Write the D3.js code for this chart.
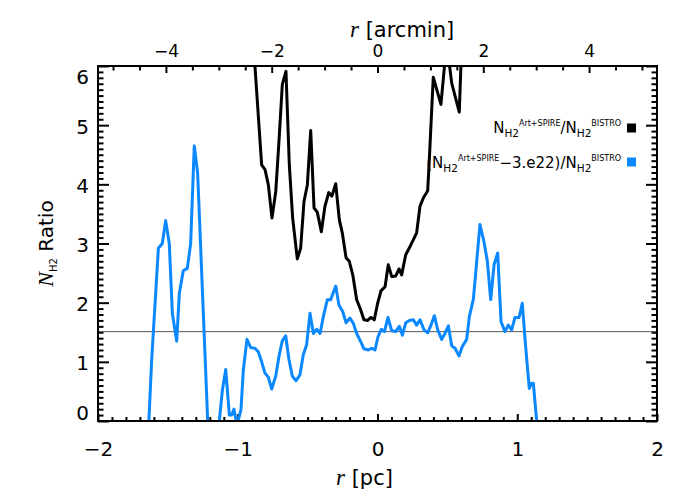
<!DOCTYPE html>
<html><head><meta charset="utf-8">
<script src="https://cdn.jsdelivr.net/npm/d3@7"></script>
<style>body{margin:0;background:#fff}</style>
</head><body><svg id="c" width="700" height="500"></svg>
<script>
// ---- data ----
const blueR = [-1.66,-1.636,-1.616,-1.568,-1.54,-1.516,-1.49,-1.468,-1.437,-1.418,-1.39,-1.361,-1.337,-1.311,-1.287,-1.215,-1.2,-1.15,-1.132,-1.11,-1.086,-1.06,-1.043,-1.027,-1.013,-0.996,-0.977,-0.96,-0.934,-0.907,-0.877,-0.853,-0.829,-0.805,-0.781,-0.757,-0.728,-0.705,-0.681,-0.657,-0.633,-0.61,-0.583,-0.555,-0.531,-0.507,-0.483,-0.459,-0.435,-0.411,-0.388,-0.359,-0.335,-0.299,-0.276,-0.249,-0.225,-0.197,-0.173,-0.149,-0.12,-0.097,-0.066,-0.042,-0.018,0.003,0.027,0.05,0.075,0.101,0.13,0.156,0.178,0.202,0.228,0.256,0.28,0.304,0.333,0.359,0.383,0.407,0.431,0.459,0.483,0.507,0.531,0.555,0.583,0.607,0.638,0.657,0.686,0.71,0.733,0.762,0.786,0.81,0.834,0.86,0.884,0.912,0.936,0.96,0.984,1.013,1.036,1.06,1.086,1.103,1.115,1.139,1.16];
const blueRatio = [-1.2,0,1.03,2.92,3.0,3.39,3.0,1.82,1.35,2.16,2.54,2.58,3.0,4.65,4.19,0,-0.87,-0.42,0,0.52,0.87,0.10,0.10,0.20,0.02,0.02,0.19,0.86,1.38,1.24,1.23,1.17,1.0,0.81,0.74,0.54,0.76,1.09,1.36,1.44,1.03,0.76,0.68,0.78,1.12,1.29,1.82,1.48,1.55,1.48,1.76,2.05,2.05,2.28,1.96,1.85,1.66,1.74,1.65,1.48,1.34,1.22,1.2,1.23,1.2,1.42,1.55,1.51,1.75,1.53,1.51,1.6,1.45,1.66,1.7,1.71,1.62,1.71,1.54,1.49,1.62,1.78,1.54,1.38,1.48,1.61,1.27,1.23,1.10,1.26,1.38,1.76,2.06,2.7,3.32,3.03,2.7,2.05,2.64,2.84,1.68,1.51,1.62,1.54,1.75,1.75,1.99,1.26,0.55,0.64,0.64,0,-0.5];
const blackR = [-0.9,-0.829,-0.805,-0.781,-0.755,-0.728,-0.705,-0.681,-0.655,-0.631,-0.607,-0.574,-0.55,-0.526,-0.502,-0.478,-0.454,-0.431,-0.402,-0.376,-0.349,-0.326,-0.299,-0.273,-0.252,-0.225,-0.202,-0.177,-0.149,-0.125,-0.097,-0.07,-0.047,-0.023,0.001,0.025,0.054,0.077,0.102,0.13,0.154,0.173,0.202,0.233,0.256,0.28,0.304,0.328,0.359,0.369,0.399,0.454,0.495,0.531,0.585,0.61];
const blackRatio = [6.8,4.33,4.25,3.99,3.43,3.88,4.73,5.69,5.91,4.33,3.43,2.74,2.92,3.71,3.99,4.91,3.6,3.53,3.2,3.63,3.86,3.8,4.01,3.4,3.18,2.76,2.7,2.47,2.05,1.91,1.71,1.70,1.75,1.71,1.99,2.2,2.27,2.64,2.44,2.45,2.57,2.47,2.81,2.95,3.06,3.18,3.63,3.77,3.89,4.33,5.81,5.35,6.4,5.71,5.22,6.85];
const pcTicks = [-2,-1,0,1,2];
const arcminTicks = [-4,-2,0,2,4];
const ratioTicks = [0,1,2,3,4,5,6];
const refLevel = 1.51;
const pcToArcmin = 2.642;
const seriesColors = ["#000000","#0a88ff"];

// ---- layout ----
const L=98, R=657, T=66, B=421;
const svg = d3.select("#c");
const x = d3.scaleLinear([-2,2],[L,R]);
const xa = d3.scaleLinear([-2*pcToArcmin, 2*pcToArcmin],[L,R]);
const y = d3.scaleLinear([0,6],[B,T]);

svg.append("defs").append("clipPath").attr("id","clip")
  .append("rect").attr("x",L).attr("y",T).attr("width",R-L).attr("height",B-T);

const near = (v,arr)=>arr.some(a=>Math.abs(a-v)<1e-6);
const pcMinor = d3.range(-20,21).map(i=>i/10).filter(v=>!near(v,pcTicks));
const amMinor = d3.range(-10,11).map(i=>i/2).filter(v=>!near(v,arcminTicks));
const yMinor = d3.range(0,61).map(i=>i/10).filter(v=>!near(v,ratioTicks));

function styleAxis(g, fs){
  g.select(".domain").remove();
  g.selectAll(".tick line").attr("stroke","#000").attr("stroke-width",2);
  g.selectAll("text").attr("font-family","DejaVu Sans").attr("font-size",fs).attr("fill","#000");
}
// bottom
svg.append("g").attr("transform",`translate(0,${B})`)
  .call(d3.axisBottom(x).tickValues(pcMinor).tickSizeInner(-4).tickSizeOuter(0).tickFormat(""))
  .call(g=>styleAxis(g,20));
svg.append("g").attr("transform",`translate(0,${B})`)
  .call(d3.axisBottom(x).tickValues(pcTicks).tickSizeInner(-7).tickSizeOuter(0).tickPadding(21).tickFormat(d3.format("d")))
  .call(g=>styleAxis(g,20));
// top
svg.append("g").attr("transform",`translate(0,${T})`)
  .call(d3.axisTop(xa).tickValues(amMinor).tickSizeInner(-4.5).tickSizeOuter(0).tickFormat(""))
  .call(g=>styleAxis(g,17));
svg.append("g").attr("transform",`translate(0,${T})`)
  .call(d3.axisTop(xa).tickValues(arcminTicks).tickSizeInner(-7).tickSizeOuter(0).tickPadding(9).tickFormat(d3.format("d")))
  .call(g=>styleAxis(g,17));
// left
svg.append("g").attr("transform",`translate(${L},0)`)
  .call(d3.axisLeft(y).tickValues(yMinor).tickSizeInner(-5.5).tickSizeOuter(0).tickFormat(""))
  .call(g=>styleAxis(g,20));
const yl = svg.append("g").attr("transform",`translate(${L},0)`)
  .call(d3.axisLeft(y).tickValues(ratioTicks).tickSizeInner(-11).tickSizeOuter(0).tickPadding(9).tickFormat(d3.format("d")))
  .call(g=>styleAxis(g,20));
yl.selectAll(".tick text").attr("dy", d => d===6 ? "0.85em" : d===0 ? "-0.1em" : "0.4em");
// right
svg.append("g").attr("transform",`translate(${R},0)`)
  .call(d3.axisRight(y).tickValues(yMinor).tickSizeInner(-5.5).tickSizeOuter(0).tickFormat(""))
  .call(g=>styleAxis(g,20));
svg.append("g").attr("transform",`translate(${R},0)`)
  .call(d3.axisRight(y).tickValues(ratioTicks).tickSizeInner(-11).tickSizeOuter(0).tickFormat(""))
  .call(g=>styleAxis(g,20));

// reference line
svg.append("line").attr("x1",L).attr("x2",R).attr("y1",y(refLevel)).attr("y2",y(refLevel))
  .attr("stroke","#555").attr("stroke-width",1);

// curves
const line = d3.line().x(d=>x(d[0])).y(d=>y(d[1]));
const plot = svg.append("g").attr("clip-path","url(#clip)");
plot.append("path").datum(d3.zip(blackR,blackRatio)).attr("d",line)
  .attr("fill","none").attr("stroke",seriesColors[0]).attr("stroke-width",3).attr("stroke-linejoin","round");
plot.append("path").datum(d3.zip(blueR,blueRatio)).attr("d",line)
  .attr("fill","none").attr("stroke",seriesColors[1]).attr("stroke-width",3).attr("stroke-linejoin","round");

// frame
svg.append("rect").attr("x",L).attr("y",T).attr("width",R-L).attr("height",B-T)
  .attr("fill","none").attr("stroke","#000").attr("stroke-width",2);

// axis titles
const bt = svg.append("text").attr("x",336).attr("y",485).attr("font-family","DejaVu Sans").attr("font-size",21);
bt.append("tspan").attr("font-family","Liberation Serif").attr("font-style","italic").attr("font-size",23).text("r");
bt.append("tspan").text(" [pc]");
const tt = svg.append("text").attr("x",350).attr("y",37).attr("font-family","DejaVu Sans").attr("font-size",21);
tt.append("tspan").attr("font-family","Liberation Serif").attr("font-style","italic").attr("font-size",23).text("r");
tt.append("tspan").text(" [arcmin]");

const yt = svg.append("text").attr("transform",`translate(53,${(T+B)/2}) rotate(-90)`)
  .attr("text-anchor","middle").attr("font-family","DejaVu Sans").attr("font-size",20);
yt.append("tspan").attr("font-family","Liberation Serif").attr("font-style","italic").attr("font-size",22).text("N");
yt.append("tspan").attr("font-size",10).attr("dy",4).text("H2");
yt.append("tspan").attr("dy",-4).text(" Ratio");

// legend
function legendLine(yb, parts, color, my){
  const t = svg.append("text").attr("x",621).attr("y",yb).attr("text-anchor","end")
    .attr("font-family","DejaVu Sans").attr("font-size",15).attr("fill","#000");
  parts.forEach(p=>{
    const s = t.append("tspan").text(p.t).attr("dy",p.dy||0);
    if(p.fs) s.attr("font-size",p.fs);
    if(p.b) s.attr("font-weight","bold");
  });
  svg.append("rect").attr("x",627).attr("y",my-4.5).attr("width",9).attr("height",9).attr("fill",color);
}
legendLine(133, [
  {t:"N"},{t:"H2",fs:10.5,dy:4},{t:"Art+SPIRE",fs:8,dy:-11.3},{t:"/",dy:7.3},
  {t:"N"},{t:"H2",fs:10.5,dy:4},{t:"BISTRO",fs:8,dy:-11.3}
], seriesColors[0], 128);
legendLine(168, [
  {t:"(N"},{t:"H2",fs:10.5,dy:4},{t:"Art+SPIRE",fs:8,dy:-11.3},{t:"\u22123.e22)/",dy:7.3},
  {t:"N"},{t:"H2",fs:10.5,dy:4},{t:"BISTRO",fs:8,dy:-11.3}
], seriesColors[1], 162);
</script></body></html>
